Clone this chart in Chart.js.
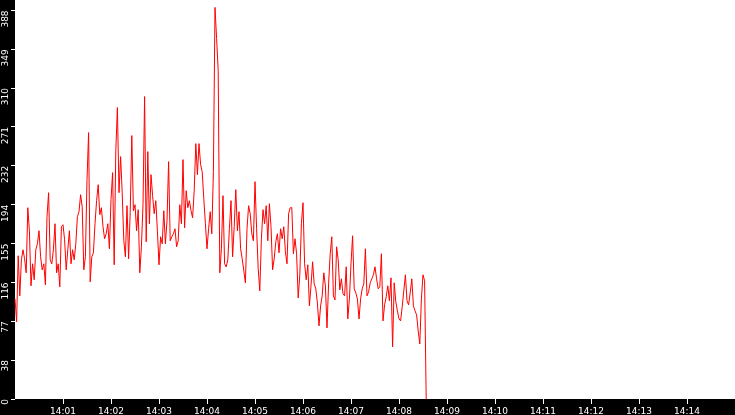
<!DOCTYPE html>
<html lang="en">
<head>
  <meta charset="UTF-8">
  <title>Rate 14:00 - 14:15</title>
  <script src="https://cdn.jsdelivr.net/npm/chart.js"></script>
  <style>
    * { box-sizing: border-box; }
    body { margin: 0; padding: 0; background: #fff; }
    #grafica { display: block; }
  </style>
</head>
<body>
  <canvas id="grafica" width="735" height="415"></canvas>
  <script>
// one sample every 2 s, starting at 14:00:00
const sampleStep = 2;
const rateValues = [
  100,77,143,103,139,149,140,126,191,168,113,135,119,149,155,168,142,129,135,114,
  182,206,139,135,149,175,126,135,112,172,174,159,129,149,168,135,149,139,155,182,
  187,204,192,129,142,219,266,117,142,146,175,198,214,184,191,172,160,165,
  175,150,199,226,134,248,291,206,242,206,158,142,193,140,186,263,188,194,168,189,
  126,152,194,302,157,247,175,224,203,185,198,168,134,162,155,188,155,178,237,158,
  162,165,170,152,158,194,175,239,171,208,191,198,188,181,208,255,224,
  255,234,227,200,175,150,170,187,165,227,391,360,328,126,150,203,135,132,139,170,
  198,142,172,209,168,187,150,140,128,116,170,193,185,165,158,217,170,130,108,160,
  189,175,193,158,195,172,129,140,157,165,146,170,160,172,147,135,185,191,
  191,145,160,145,101,124,175,196,135,119,134,93,113,137,115,110,96,73,93,103,
  126,113,71,115,145,162,103,99,152,139,109,120,105,103,132,80,100,135,163,110,
  106,100,80,100,110,115,150,103,107,116,120,124,132,120,110,112,145,
  78,94,102,113,98,121,52,116,97,88,80,78,92,108,124,98,94,106,120,93,
  88,84,68,55,100,124,118,0
];

const xMax = 900; // 14:00 .. 14:15 in seconds
const xTickValues = [60,120,180,240,300,360,420,480,540,600,660,720,780,840];
const xTickLabels = ['14:01','14:02','14:03','14:04','14:05','14:06','14:07','14:08','14:09','14:10','14:11','14:12','14:13','14:14'];

const yMax = 388;
const yTickValues = [0,38.8,77.6,116.4,155.2,194,232.8,271.6,310.4,349.2,388];
const yTickLabels = ['0','38','77','116','155','194','232','271','310','349','388'];

const puntos = rateValues.map((v, i) => ({ x: i * sampleStep, y: v }));

const fondo = {
  id: 'fondo',
  beforeDraw(chart) {
    const { ctx, width, height, chartArea } = chart;
    ctx.save();
    ctx.fillStyle = '#ffffff';
    ctx.fillRect(0, 0, width, height);
    ctx.fillStyle = '#000000';
    ctx.fillRect(0, 0, chartArea.left, height);
    ctx.fillRect(0, chartArea.bottom, width, height - chartArea.bottom);
    ctx.restore();
  }
};

const fuente = { family: 'DejaVu Sans', size: 9 };

new Chart(document.getElementById('grafica').getContext('2d'), {
  type: 'line',
  data: {
    datasets: [{
      data: puntos,
      borderColor: '#ff0000',
      borderWidth: 1,
      pointRadius: 0,
      fill: false,
      tension: 0,
      clip: false
    }]
  },
  options: {
    responsive: false,
    animation: false,
    devicePixelRatio: 1,
    layout: { padding: { top: 3, right: 0, left: 0, bottom: 0 } },
    plugins: { legend: { display: false }, tooltip: { enabled: false } },
    scales: {
      x: {
        type: 'linear',
        min: 0,
        max: xMax,
        afterFit(scale) { scale.height = 16; },
        afterBuildTicks(scale) { scale.ticks = xTickValues.map(v => ({ value: v })); },
        grid: { drawOnChartArea: false, drawTicks: true, tickLength: 5, color: '#ffffff' },
        border: { display: false },
        ticks: {
          color: '#ffffff',
          font: fuente,
          padding: 2,
          maxRotation: 0,
          autoSkip: false,
          callback: (v, i) => xTickLabels[i]
        }
      },
      y: {
        min: 0,
        max: yMax,
        afterFit(scale) { scale.width = 15; },
        afterBuildTicks(scale) { scale.ticks = yTickValues.map(v => ({ value: v })); },
        grid: { drawOnChartArea: false, drawTicks: true, tickLength: 4, color: '#ffffff' },
        border: { display: false },
        ticks: {
          color: '#ffffff',
          font: fuente,
          padding: 5,
          minRotation: 90,
          maxRotation: 90,
          autoSkip: false,
          callback: (v, i) => yTickLabels[i]
        }
      }
    }
  },
  plugins: [fondo]
});
  </script>
</body>
</html>
